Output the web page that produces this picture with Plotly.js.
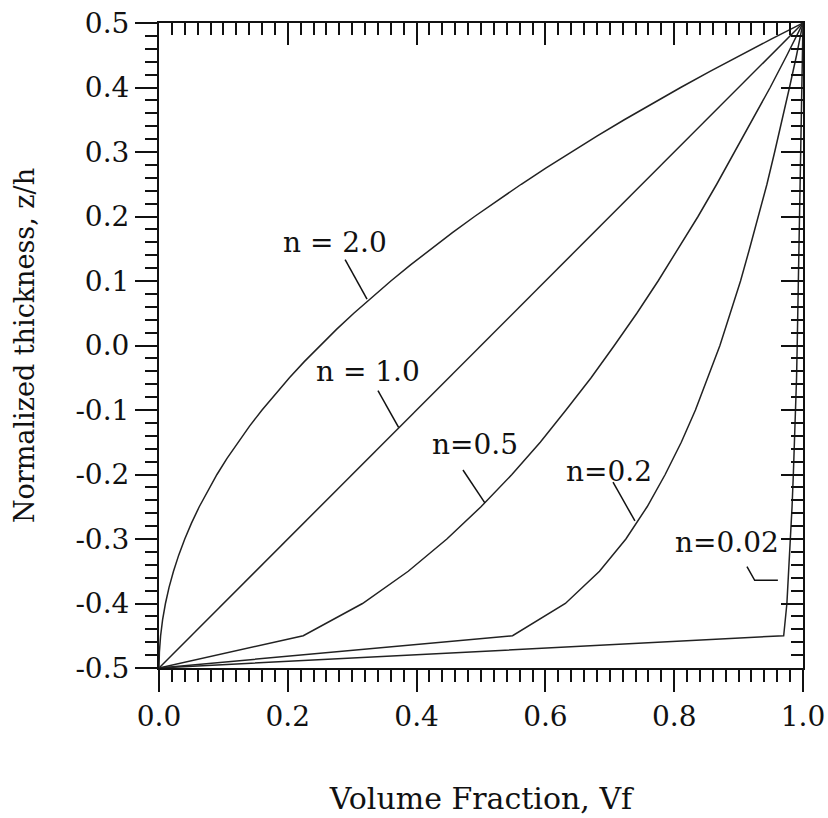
<!DOCTYPE html>
<html>
<head>
<meta charset="utf-8">
<script src="https://cdn.plot.ly/plotly-3.0.1.min.js"></script>
<style>html,body{margin:0;padding:0;background:#fff;}#chart{width:828px;height:818px;}</style>
</head>
<body>
<div id="chart"></div>
<script>
// Normalized thickness z/h (shared y values for the coarse curves)
const zOverH = [-0.5,-0.45,-0.4,-0.35,-0.3,-0.25,-0.2,-0.15,-0.1,-0.05,0,0.05,0.1,0.15,0.2,0.25,0.3,0.35,0.4,0.45,0.5];
// finer z/h sampling used for the smooth n = 2.0 curve
const zOverHFine = [-0.5,-0.475,-0.45,-0.425,-0.4,-0.375,-0.35,-0.325,-0.3,-0.275,-0.25,-0.225,-0.2,-0.175,-0.15,-0.125,-0.1,-0.075,-0.05,-0.025,0,0.025,0.05,0.075,0.1,0.125,0.15,0.175,0.2,0.225,0.25,0.275,0.3,0.325,0.35,0.375,0.4,0.425,0.45,0.475,0.5];
// Volume fraction Vf for each exponent n
const vfN20  = [0,0.0006,0.0025,0.0056,0.01,0.0156,0.0225,0.0306,0.04,0.0506,0.0625,0.0756,0.09,0.1056,0.1225,0.1406,0.16,0.1806,0.2025,0.2256,0.25,0.2756,0.3025,0.3306,0.36,0.3906,0.4225,0.4556,0.49,0.5256,0.5625,0.6006,0.64,0.6806,0.7225,0.7656,0.81,0.8556,0.9025,0.9506,1];
const vfN10  = [0,0.05,0.1,0.15,0.2,0.25,0.3,0.35,0.4,0.45,0.5,0.55,0.6,0.65,0.7,0.75,0.8,0.85,0.9,0.95,1];
const vfN05  = [0,0.224,0.316,0.387,0.447,0.5,0.548,0.592,0.632,0.671,0.707,0.742,0.775,0.806,0.837,0.866,0.894,0.922,0.949,0.975,1];
const vfN02  = [0,0.549,0.631,0.684,0.725,0.758,0.786,0.811,0.833,0.852,0.871,0.887,0.903,0.917,0.931,0.944,0.956,0.968,0.979,0.99,1];
const vfN002 = [0,0.97,0.975,0.978,0.981,0.983,0.985,0.987,0.988,0.99,0.991,0.992,0.993,0.994,0.995,0.996,0.997,0.998,0.998,0.999,1];
const seriesNames = ["n = 2.0","n = 1.0","n=0.5","n=0.2","n=0.02"];
const xTickVals = [0,0.2,0.4,0.6,0.8,1.0];
const xTickText = ["0.0","0.2","0.4","0.6","0.8","1.0"];
const yTickVals = [-0.5,-0.4,-0.3,-0.2,-0.1,0,0.1,0.2,0.3,0.4,0.5];
const yTickText = ["-0.5","-0.4","-0.3","-0.2","-0.1","0.0","0.1","0.2","0.3","0.4","0.5"];

const FONT = "DejaVu Serif, Liberation Serif, serif";
const INK = "#111";
const curves = [
  {x: vfN20, y: zOverHFine}, {x: vfN10, y: zOverH}, {x: vfN05, y: zOverH},
  {x: vfN02, y: zOverH}, {x: vfN002, y: zOverH}
];

const traces = curves.map((c, i) => ({
  type: "scatter", mode: "lines", x: c.x, y: c.y, name: seriesNames[i],
  line: {color: "#222", width: 1.5}, hoverinfo: "skip", showlegend: false,
  xaxis: "x", yaxis: "y"
}));
// carrier for the mirrored (top/right) axes with inward ticks
traces.push({type: "scatter", mode: "lines", x: [null], y: [null], xaxis: "x2", yaxis: "y2", showlegend: false, hoverinfo: "skip"});

const baseAxis = {
  showgrid: false, zeroline: false, showline: true, linecolor: INK, linewidth: 2,
  tickcolor: INK, tickwidth: 2, ticklen: 22,
  tickfont: {family: FONT, size: 28, color: INK},
  minor: {dtick: 0.02, tick0: 0, ticklen: 12, tickwidth: 2, tickcolor: INK, showgrid: false}
};

const layout = {
  width: 828, height: 818,
  margin: {l: 159, r: 25, t: 23, b: 150},
  paper_bgcolor: "#fff", plot_bgcolor: "#fff",
  showlegend: false,
  xaxis: Object.assign({}, baseAxis, {
    range: [0, 1], side: "bottom", ticks: "outside",
    tickmode: "array", tickvals: xTickVals, ticktext: xTickText,
    minor: Object.assign({}, baseAxis.minor, {ticks: "outside"}),
    title: {text: "Volume Fraction, Vf", font: {family: FONT, size: 30, color: INK}, standoff: 56}
  }),
  yaxis: Object.assign({}, baseAxis, {
    range: [-0.5, 0.5], side: "left", ticks: "outside",
    tickmode: "array", tickvals: yTickVals, ticktext: yTickText,
    minor: Object.assign({}, baseAxis.minor, {ticks: "outside"}),
    title: {text: "Normalized thickness, z/h", font: {family: FONT, size: 27, color: INK}, standoff: 33}
  }),
  xaxis2: Object.assign({}, baseAxis, {
    range: [0, 1], overlaying: "x", side: "top", anchor: "y2", ticks: "inside",
    tickmode: "array", tickvals: xTickVals, showticklabels: false,
    minor: Object.assign({}, baseAxis.minor, {ticks: "inside"})
  }),
  yaxis2: Object.assign({}, baseAxis, {
    range: [-0.5, 0.5], overlaying: "y", side: "right", anchor: "x2", ticks: "inside",
    tickmode: "array", tickvals: yTickVals, showticklabels: false,
    minor: Object.assign({}, baseAxis.minor, {ticks: "inside"})
  }),
  annotations: [
    {text: seriesNames[0], x: 0.273, y: 0.159},
    {text: seriesNames[1], x: 0.325, y: -0.041},
    {text: seriesNames[2], x: 0.491, y: -0.153},
    {text: seriesNames[3], x: 0.699, y: -0.195},
    {text: seriesNames[4], x: 0.882, y: -0.306}
  ].map(a => Object.assign(a, {xref: "x", yref: "y", showarrow: false, xanchor: "center", yanchor: "middle",
        font: {family: FONT, size: 28, color: INK}})),
  shapes: [
    {type: "line", x0: 0.289, y0: 0.133, x1: 0.323, y1: 0.072},
    {type: "line", x0: 0.340, y0: -0.070, x1: 0.372, y1: -0.127},
    {type: "line", x0: 0.472, y0: -0.193, x1: 0.506, y1: -0.244},
    {type: "line", x0: 0.705, y0: -0.212, x1: 0.739, y1: -0.272},
    {type: "path", path: "M 0.913,-0.343 L 0.925,-0.364 L 0.961,-0.364"}
  ].map(s => Object.assign(s, {xref: "x", yref: "y", line: {color: INK, width: 1.5}}))
};

Plotly.newPlot("chart", traces, layout, {displayModeBar: false, staticPlot: true});
</script>
</body>
</html>
